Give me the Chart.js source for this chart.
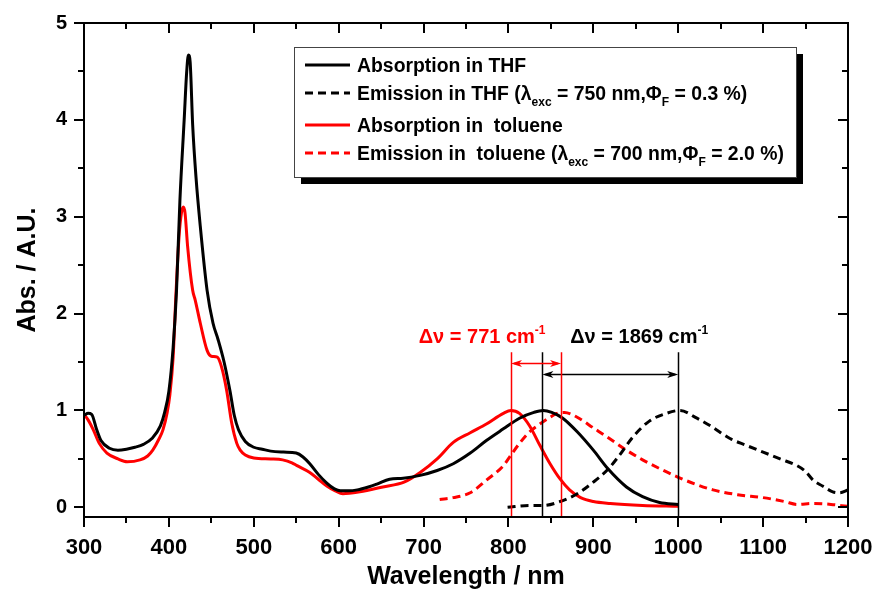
<!DOCTYPE html>
<html lang="en">
<head>
<meta charset="utf-8">
<title>Absorption and emission spectra</title>
<script src="https://cdn.jsdelivr.net/npm/chart.js@4.4.1/dist/chart.umd.min.js"></script>
<style>
	html, body { margin: 0; padding: 0; background: #fff; }
	#wrap { width: 880px; height: 592px; }
</style>
</head>
<body>
<div id="wrap"><canvas id="spectra" width="880" height="592"></canvas></div>
<script>
// axis ticks
var xTicks = [300, 400, 500, 600, 700, 800, 900, 1000, 1100, 1200];
var yTicks = [0, 1, 2, 3, 4, 5];

// absorption in THF
var absThfX = [300, 305, 309, 315, 320, 330, 340, 350, 360, 370, 380, 390, 395, 400, 405, 409, 413, 418, 421, 423, 425, 428, 432, 437, 445, 452, 458, 465, 472, 477, 482, 490, 500, 510, 520, 535, 550, 558, 566, 576, 586, 595, 602, 612, 622, 635, 645, 660, 676, 696, 716, 735, 755, 774, 794, 813, 830, 841, 851, 864, 881, 900, 917, 939, 958, 978, 1000];
var absThfY = [0.95, 0.97, 0.96, 0.80, 0.69, 0.61, 0.59, 0.60, 0.62, 0.65, 0.71, 0.84, 0.98, 1.20, 1.65, 2.24, 3.17, 4.00, 4.50, 4.67, 4.60, 3.95, 3.40, 2.90, 2.24, 1.90, 1.73, 1.50, 1.20, 0.95, 0.80, 0.68, 0.62, 0.60, 0.58, 0.57, 0.56, 0.52, 0.45, 0.34, 0.25, 0.19, 0.17, 0.17, 0.18, 0.21, 0.24, 0.29, 0.30, 0.33, 0.38, 0.45, 0.56, 0.69, 0.81, 0.92, 0.98, 1.00, 0.98, 0.92, 0.78, 0.59, 0.40, 0.21, 0.11, 0.05, 0.03];

// emission in THF
var emThfX = [799, 825, 841, 861, 881, 900, 917, 931, 947, 966, 986, 1002, 1022, 1040, 1061, 1080, 1100, 1120, 1140, 1150, 1159, 1170, 1182, 1190, 1200];
var emThfY = [0.00, 0.02, 0.02, 0.06, 0.14, 0.26, 0.39, 0.54, 0.73, 0.89, 0.97, 1.00, 0.92, 0.83, 0.71, 0.64, 0.57, 0.50, 0.43, 0.37, 0.28, 0.22, 0.16, 0.15, 0.18];

// absorption in toluene
var absTolX = [300, 305, 311, 318, 327, 340, 351, 366, 375, 381, 388, 393, 398, 401, 405, 408, 412, 415, 417, 419, 422, 428, 431, 437, 445, 450, 457, 462, 468, 474, 480, 484, 490, 500, 520, 534, 545, 551, 566, 576, 586, 596, 605, 625, 652, 677, 696, 716, 735, 755, 774, 794, 803, 813, 825, 837, 849, 861, 872, 885, 900, 920, 958, 1000];
var absTolY = [0.96, 0.90, 0.80, 0.66, 0.56, 0.50, 0.47, 0.49, 0.53, 0.59, 0.70, 0.80, 0.98, 1.15, 1.55, 2.14, 2.80, 3.05, 3.10, 3.04, 2.70, 2.24, 2.14, 1.90, 1.62, 1.56, 1.55, 1.45, 1.21, 0.87, 0.66, 0.59, 0.54, 0.51, 0.50, 0.49, 0.46, 0.43, 0.36, 0.29, 0.22, 0.17, 0.14, 0.16, 0.21, 0.26, 0.36, 0.50, 0.67, 0.77, 0.86, 0.97, 1.00, 0.97, 0.84, 0.64, 0.45, 0.29, 0.18, 0.10, 0.06, 0.04, 0.02, 0.01];

// emission in toluene
var emTolX = [719, 735, 755, 774, 794, 803, 813, 825, 837, 849, 857, 866, 881, 900, 919, 939, 958, 978, 1000, 1020, 1041, 1070, 1100, 1125, 1140, 1159, 1180, 1199];
var emTolY = [0.08, 0.10, 0.15, 0.28, 0.43, 0.54, 0.66, 0.78, 0.86, 0.93, 0.97, 0.98, 0.93, 0.82, 0.71, 0.59, 0.49, 0.40, 0.31, 0.24, 0.18, 0.13, 0.10, 0.06, 0.03, 0.04, 0.03, 0.01];

// Stokes shift markers (nm) and labels
var shiftTolX = [803, 862];
var shiftThfX = [840, 1000];
var shiftTolText = 'Δν = 771 cm';
var shiftThfText = 'Δν = 1869 cm';

var FONT = "'Liberation Sans', Arial, sans-serif";

function pts(xs, ys) {
	return xs.map(function(x, i){ return {x: x, y: ys[i]}; });
}

// legend rows: text pieces, sub = subscript
var legendRows = [
	[{t: 'Absorption in THF'}],
	[{t: 'Emission in THF (λ'}, {t: 'exc', sub: true}, {t: ' = 750 nm,Φ'}, {t: 'F', sub: true}, {t: ' = 0.3 %)'}],
	[{t: 'Absorption in  toluene'}],
	[{t: 'Emission in  toluene (λ'}, {t: 'exc', sub: true}, {t: ' = 700 nm,Φ'}, {t: 'F', sub: true}, {t: ' = 2.0 %)'}]
];

function richText(ctx, parts, x, y, size, color) {
	ctx.fillStyle = color;
	ctx.textBaseline = 'alphabetic';
	ctx.textAlign = 'left';
	parts.forEach(function(p){
		if (p.sub || p.sup) {
			ctx.font = 'bold ' + Math.round(size * 0.62) + 'px ' + FONT;
			ctx.fillText(p.t, x, y + (p.sub ? size * 0.32 : -size * 0.45));
		} else {
			ctx.font = 'bold ' + size + 'px ' + FONT;
			ctx.fillText(p.t, x, y);
		}
		x += ctx.measureText(p.t).width;
	});
}

function richWidth(ctx, parts, size) {
	var w = 0;
	parts.forEach(function(p){
		ctx.font = 'bold ' + ((p.sub || p.sup) ? Math.round(size * 0.62) : size) + 'px ' + FONT;
		w += ctx.measureText(p.t).width;
	});
	return w;
}

var framePlugin = {
	id: 'frame',
	afterDraw: function(chart) {
		var ctx = chart.ctx, a = chart.chartArea;
		var xs = chart.scales.x, ys = chart.scales.y;
		ctx.save();
		ctx.strokeStyle = '#000';
		ctx.lineWidth = 2;
		ctx.strokeRect(a.left, a.top, a.right - a.left, a.bottom - a.top);
		ctx.beginPath();
		var i, v, p, len;
		for (i = 0; i < xTicks.length; i++) {
			for (var k = 0; k < 2; k++) {
				v = xTicks[i] + k * (xTicks[1] - xTicks[0]) / 2;
				if (v > xs.max) continue;
				p = Math.round(xs.getPixelForValue(v));
				len = k ? 6 : 10;
				ctx.moveTo(p, a.bottom); ctx.lineTo(p, a.bottom + len);
				ctx.moveTo(p, a.top); ctx.lineTo(p, a.top + len);
			}
		}
		for (i = 0; i < yTicks.length; i++) {
			for (var j = 0; j < 2; j++) {
				v = yTicks[i] + j * (yTicks[1] - yTicks[0]) / 2;
				if (v > ys.max) continue;
				p = Math.round(ys.getPixelForValue(v));
				len = j ? 6 : 10;
				ctx.moveTo(a.left, p); ctx.lineTo(a.left - len, p);
				ctx.moveTo(a.right, p); ctx.lineTo(a.right - len, p);
			}
		}
		ctx.stroke();
		ctx.restore();
	}
};

function arrowHead(ctx, x, y, dir) {
	ctx.beginPath();
	ctx.moveTo(x, y);
	ctx.lineTo(x - dir * 11, y - 3.5);
	ctx.lineTo(x - dir * 8, y);
	ctx.lineTo(x - dir * 11, y + 3.5);
	ctx.closePath();
	ctx.fill();
}

var shiftPlugin = {
	id: 'shift',
	afterDatasetsDraw: function(chart) {
		var ctx = chart.ctx, xs = chart.scales.x, ys = chart.scales.y;
		var yTop = ys.getPixelForValue(1.6), yBot = ys.getPixelForValue(ys.min);
		ctx.save();
		ctx.lineWidth = 1.5;
		function marker(pair, color, arrowY, text, textX) {
			ctx.strokeStyle = color;
			ctx.fillStyle = color;
			var p0 = xs.getPixelForValue(pair[0]), p1 = xs.getPixelForValue(pair[1]);
			ctx.beginPath();
			pair.forEach(function(v){
				var p = Math.round(xs.getPixelForValue(v)) + 0.5;
				ctx.moveTo(p, yTop); ctx.lineTo(p, yBot);
			});
			var ay = Math.round(ys.getPixelForValue(arrowY)) + 0.5;
			ctx.moveTo(p0 + 3, ay); ctx.lineTo(p1 - 3, ay);
			ctx.stroke();
			arrowHead(ctx, p0, ay, -1);
			arrowHead(ctx, p1, ay, 1);
			var parts = [{t: text}, {t: '-1', sup: true}];
			var w = richWidth(ctx, parts, 20);
			richText(ctx, parts, xs.getPixelForValue(textX) - w / 2, ys.getPixelForValue(1.70), 20, color);
		}
		marker(shiftThfX, '#000', 1.38, shiftThfText, 954);
		marker(shiftTolX, '#ff0000', 1.49, shiftTolText, 769);
		ctx.restore();
	}
};

var legendPlugin = {
	id: 'boxLegend',
	afterDraw: function(chart) {
		var ctx = chart.ctx;
		var bx = 294, by = 47, bw = 502, bh = 130;
		ctx.save();
		ctx.fillStyle = '#000';
		ctx.fillRect(bx + 7, by + 7, bw, bh);
		ctx.fillStyle = '#fff';
		ctx.fillRect(bx, by, bw, bh);
		ctx.strokeStyle = '#444';
		ctx.lineWidth = 1;
		ctx.strokeRect(bx + 0.5, by + 0.5, bw, bh);
		var lineY = [65, 93, 125, 153];
		chart.data.datasets.forEach(function(ds, i){
			ctx.strokeStyle = ds.borderColor;
			ctx.lineWidth = 3;
			ctx.setLineDash(ds.borderDash || []);
			ctx.beginPath();
			ctx.moveTo(bx + 11, lineY[i]);
			ctx.lineTo(bx + 56, lineY[i]);
			ctx.stroke();
			ctx.setLineDash([]);
			richText(ctx, legendRows[i], bx + 63, lineY[i] + 7, 19.4, '#000');
		});
		ctx.restore();
	}
};

var tickFont = function(size){ return {family: FONT, size: size, weight: 'bold'}; };

new Chart(document.getElementById('spectra'), {
	type: 'line',
	data: {
		datasets: [
			{label: 'Absorption in THF', data: pts(absThfX, absThfY), borderColor: '#000', borderWidth: 3},
			{label: 'Emission in THF', data: pts(emThfX, emThfY), borderColor: '#000', borderWidth: 3, borderDash: [8, 5]},
			{label: 'Absorption in  toluene', data: pts(absTolX, absTolY), borderColor: '#ff0000', borderWidth: 3},
			{label: 'Emission in  toluene', data: pts(emTolX, emTolY), borderColor: '#ff0000', borderWidth: 3, borderDash: [8, 5]}
		]
	},
	options: {
		responsive: false,
		animation: false,
		devicePixelRatio: 1,
		elements: {
			point: {radius: 0},
			line: {cubicInterpolationMode: 'monotone', fill: false}
		},
		layout: {padding: {left: 0, right: 32, top: 23, bottom: 0}},
		plugins: {legend: {display: false}, tooltip: {enabled: false}},
		scales: {
			x: {
				type: 'linear', min: 300, max: 1200,
				afterBuildTicks: function(s){ s.ticks = xTicks.map(function(v){ return {value: v}; }); },
				afterFit: function(s){ s.height = 75; s.paddingLeft = 0; s.paddingRight = 0; },
				grid: {display: false, drawTicks: false},
				border: {display: false},
				ticks: {font: tickFont(22), color: '#000', padding: 18, maxRotation: 0, autoSkip: false,
					callback: function(v){ return String(v); }},
				title: {display: true, text: 'Wavelength / nm', font: tickFont(25), color: '#000', padding: {top: 0, bottom: 0}}
			},
			y: {
				type: 'linear', min: -0.1, max: 5,
				afterBuildTicks: function(s){ s.ticks = yTicks.map(function(v){ return {value: v}; }); },
				afterFit: function(s){ s.width = 84; s.paddingTop = 0; s.paddingBottom = 0; },
				grid: {display: false, drawTicks: false},
				border: {display: false},
				ticks: {font: tickFont(20), color: '#000', padding: 17, autoSkip: false,
					callback: function(v){ return String(v); }},
				title: {display: true, text: 'Abs. / A.U.', font: tickFont(25), color: '#000', padding: {top: 13, bottom: 0}}
			}
		}
	},
	plugins: [shiftPlugin, framePlugin, legendPlugin]
});
</script>
</body>
</html>
